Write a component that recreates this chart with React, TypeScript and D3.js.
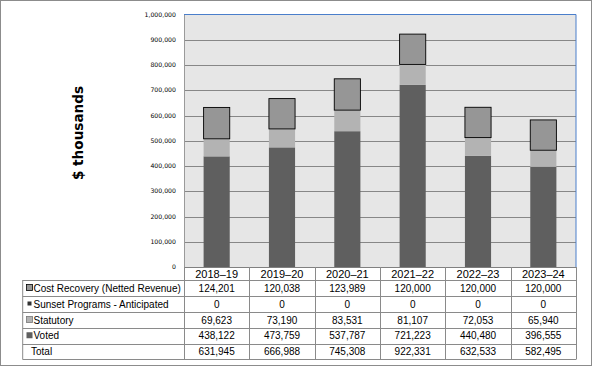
import React, { useEffect, useRef } from 'react'
import * as d3 from 'd3'

const years = ['2018–19', '2019–20', '2020–21', '2021–22', '2022–23', '2023–24']
const voted = [438122, 473759, 537787, 721223, 440480, 396555]
const statutory = [69623, 73190, 83531, 81107, 72053, 65940]
const sunset = [0, 0, 0, 0, 0, 0]
const costRecovery = [124201, 120038, 123989, 120000, 120000, 120000]
const totals = [631945, 666988, 745308, 922331, 632533, 582495]
const yTicks = [0, 100000, 200000, 300000, 400000, 500000, 600000, 700000, 800000, 900000, 1000000]

const W = 592
const H = 366

export default function App() {
  const ref = useRef<SVGSVGElement>(null)

  useEffect(() => {
    const svg = d3.select(ref.current)
    svg.selectAll('*').remove()

    const left = 184, right = 576, top = 14.5, bottom = 267
    const x = d3.scaleBand<string>().domain(years).range([left, right]).padding(0)
    const y = d3.scaleLinear().domain([0, 1000000]).range([bottom, top])
    const fmt = d3.format(',')
    const barW = x.bandwidth() * 0.4

    // outer frame
    svg.append('rect')
      .attr('x', 0.5).attr('y', 0.5).attr('width', W - 1).attr('height', H - 1)
      .attr('fill', '#fff').attr('stroke', '#8c8c8c')

    // plot background
    svg.append('rect')
      .attr('x', left).attr('y', top).attr('width', right - left).attr('height', bottom - top)
      .attr('fill', '#e6e6e6')

    // gridlines
    svg.append('g').selectAll('line')
      .data(yTicks.slice(1, -1))
      .join('line')
      .attr('x1', left).attr('x2', right)
      .attr('y1', d => Math.round(y(d)) + 0.5).attr('y2', d => Math.round(y(d)) + 0.5)
      .attr('stroke', '#878787')

    // y tick labels
    svg.append('g').selectAll('text')
      .data(yTicks)
      .join('text')
      .attr('x', 176).attr('y', d => y(d) + 2)
      .attr('text-anchor', 'end')
      .attr('font-family', 'DejaVu Sans, Verdana, sans-serif')
      .attr('font-size', 6.2)
      .attr('fill', '#000')
      .text(d => fmt(d))

    // y title
    svg.append('text')
      .attr('transform', 'translate(83,133) rotate(-90)')
      .attr('text-anchor', 'middle')
      .attr('font-family', 'DejaVu Sans, Verdana, sans-serif')
      .attr('font-weight', 'bold')
      .attr('font-size', 13.6)
      .text('$ thousands')

    // stacked bars
    const series = [
      { name: 'Voted', vals: voted, fill: '#5f5f5f', stroke: 'none' },
      { name: 'Statutory', vals: statutory, fill: '#b3b3b3', stroke: 'none' },
      { name: 'Sunset', vals: sunset, fill: '#333333', stroke: 'none' },
      { name: 'Cost', vals: costRecovery, fill: '#969696', stroke: '#000' },
    ]
    const base = years.map(() => 0)
    series.forEach(s => {
      svg.append('g').selectAll('rect')
        .data(years)
        .join('rect')
        .attr('x', d => x(d)! + (x.bandwidth() - barW) / 2)
        .attr('width', barW)
        .attr('y', (d, i) => y(base[i] + s.vals[i]))
        .attr('height', (d, i) => y(base[i]) - y(base[i] + s.vals[i]))
        .attr('fill', s.fill)
        .attr('stroke', s.stroke)
        .attr('stroke-width', 0.9)
        .style('display', (d, i) => (s.vals[i] === 0 ? 'none' : null))
      years.forEach((_, i) => { base[i] += s.vals[i] })
    })

    // plot borders
    svg.append('line').attr('x1', left + 0.5).attr('x2', left + 0.5).attr('y1', top).attr('y2', bottom)
      .attr('stroke', '#9a9a9a')
    svg.append('line').attr('x1', left).attr('x2', right).attr('y1', top).attr('y2', top)
      .attr('stroke', '#4a7ecb')
    svg.append('line').attr('x1', right).attr('x2', right).attr('y1', top).attr('y2', bottom)
      .attr('stroke', '#4a7ecb')
    svg.append('line').attr('x1', left).attr('x2', right).attr('y1', bottom + 0.5).attr('y2', bottom + 0.5)
      .attr('stroke', '#808080')

    // data table
    const tblLeft = 22.7
    const rowEdges = [267, 280, 296, 312, 328, 343.5, 359]
    const rows = [
      { label: 'Cost Recovery (Netted Revenue)', vals: costRecovery, marker: { fill: '#969696', stroke: '#000', size: 6 } },
      { label: 'Sunset Programs - Anticipated', vals: sunset, marker: { fill: '#333333', stroke: 'none', size: 4 } },
      { label: 'Statutory', vals: statutory, marker: { fill: '#b3b3b3', stroke: '#777', size: 6 } },
      { label: 'Voted', vals: voted, marker: { fill: '#5f5f5f', stroke: 'none', size: 6 } },
      { label: 'Total', vals: totals, marker: null as null | { fill: string; stroke: string; size: number } },
    ]
    const tbl = svg.append('g')
    const gridColor = '#8a8a8a'
    // horizontal lines
    rowEdges.slice(1).forEach(yy => {
      tbl.append('line').attr('x1', tblLeft).attr('x2', right)
        .attr('y1', Math.round(yy) + 0.5).attr('y2', Math.round(yy) + 0.5)
        .attr('stroke', gridColor)
    })
    // vertical lines
    tbl.append('line').attr('x1', tblLeft).attr('x2', tblLeft)
      .attr('y1', rowEdges[1]).attr('y2', rowEdges[6] + 0.5).attr('stroke', gridColor)
    const colEdges = years.map(d => x(d)!).concat([right])
    colEdges.forEach(xx => {
      tbl.append('line').attr('x1', Math.round(xx) + 0.5).attr('x2', Math.round(xx) + 0.5)
        .attr('y1', rowEdges[0]).attr('y2', rowEdges[6] + 0.5).attr('stroke', gridColor)
    })

    // header
    tbl.selectAll('text.hdr')
      .data(years)
      .join('text')
      .attr('class', 'hdr')
      .attr('x', d => x(d)! + x.bandwidth() / 2)
      .attr('y', rowEdges[1] - 2.5)
      .attr('text-anchor', 'middle')
      .attr('font-family', 'Liberation Sans, Arial, sans-serif')
      .attr('font-size', 11)
      .text(d => d)

    rows.forEach((r, ri) => {
      const y0 = rowEdges[ri + 1], y1 = rowEdges[ri + 2]
      const cy = (y0 + y1) / 2
      if (r.marker) {
        const s = r.marker.size
        tbl.append('rect')
          .attr('x', 29.5 - s / 2).attr('y', cy - s / 2 - 0.5)
          .attr('width', s).attr('height', s)
          .attr('fill', r.marker.fill).attr('stroke', r.marker.stroke).attr('stroke-width', 0.8)
      }
      tbl.append('text')
        .attr('x', r.marker ? 33.5 : 31).attr('y', cy + 3.5)
        .attr('font-family', 'Liberation Sans, Arial, sans-serif')
        .attr('font-size', 10)
        .text(r.label)
      tbl.append('g').selectAll('text')
        .data(years)
        .join('text')
        .attr('x', d => x(d)! + x.bandwidth() / 2)
        .attr('y', cy + 3.5)
        .attr('text-anchor', 'middle')
        .attr('font-family', 'Liberation Sans, Arial, sans-serif')
        .attr('font-size', 10)
        .text((d, i) => fmt(r.vals[i]))
    })
  }, [])

  return (
    <div style={{ position: 'absolute', left: 0, top: 0 }}>
      <svg ref={ref} width={W} height={H} style={{ display: 'block' }} />
    </div>
  )
}
